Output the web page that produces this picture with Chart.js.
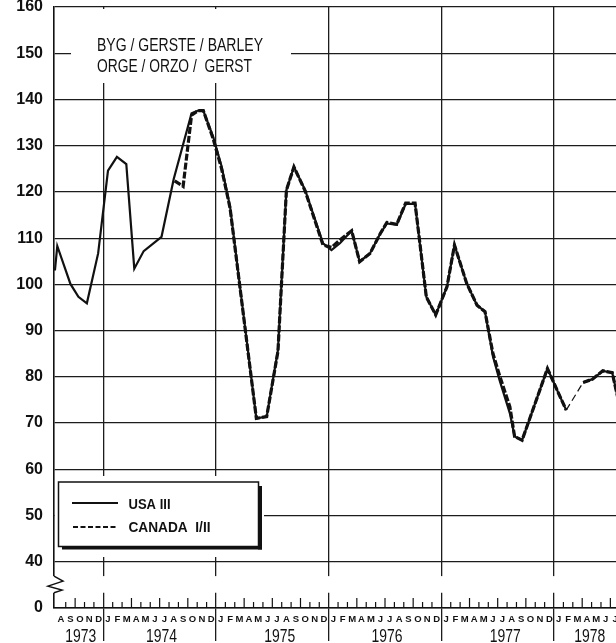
<!DOCTYPE html>
<html>
<head>
<meta charset="utf-8">
<script src="https://cdn.jsdelivr.net/npm/chart.js@4.4.1/dist/chart.umd.min.js"></script>
<style>
  html, body { margin: 0; padding: 0; background: #fff; }
  #wrap { width: 616px; height: 643px; }
</style>
</head>
<body>
<div id="wrap"><canvas id="barleyChart" width="616" height="643"></canvas></div>
<script>
// Meses contados desde enero 1973 = 0
const usaMonths = [6.85, 7.1, 8.5, 9.35, 10.25, 11.45, 12.5, 13.45, 14.45, 15.3, 16.3, 18.2,
    19.5, 21.4, 22.1, 22.65, 23.7, 24.6, 25.5, 28.3, 29.4, 30.6, 31.5, 32.3, 33.5,
    35.4, 36.3, 37.2, 38.45, 39.3, 40.4, 41.5, 42.2, 43.25, 44.2, 45.2, 46.4, 47.4,
    48.6, 49.4, 50.7, 51.8, 52.65, 53.5, 54.2, 55.3, 55.8, 56.6, 59.3, 60.4, 61.3,
    62.2, 63.1, 64.1, 65.2, 66.2, 67.2];
const usaValues = [103.0, 108.3, 100.1, 97.3, 95.9, 106.7, 124.6, 127.6, 126.0, 103.4, 107.2, 110.3,
    122.8, 137.0, 137.6, 137.6, 131.9, 125.5, 116.8, 71.0, 71.4, 85.8, 120.4, 125.4, 120.4,
    108.9, 107.4, 108.9, 111.6, 104.9, 106.7, 111.0, 113.2, 112.9, 117.4, 117.4, 97.3, 93.4,
    99.5, 108.5, 100.2, 95.5, 94.1, 84.4, 79.3, 72.1, 67.1, 66.3, 81.8, 76.8, 72.8,
    null, 78.8, 79.5, 81.3, 80.9, 71.7];

const canadaMonths = [19.6, 20.5, 21.4, 22.1, 22.65, 23.7, 24.6, 25.5, 28.3, 29.4, 30.6, 31.5,
    32.3, 33.5, 35.4, 36.3, 37.2, 38.45, 39.3, 40.4, 41.5, 42.2, 43.25, 44.2, 45.2, 46.4,
    47.4, 48.6, 49.4, 50.7, 51.8, 52.65, 53.5, 54.2, 55.3, 55.8, 56.6, 59.3, 60.4, 61.3,
    63.1, 64.1, 65.2, 66.2, 67.2];
const canadaValues = [122.4, 121.2, 136.6, 137.6, 137.6, 131.5, 125.0, 116.5, 71.0, 71.4, 85.5, 120.4,
    125.4, 120.2, 108.5, 108.0, 109.6, 111.6, 104.9, 106.7, 111.0, 113.4, 113.0, 117.6, 117.6, 97.3,
    93.4, 99.5, 108.5, 100.2, 95.5, 94.1, 85.0, 80.3, 73.5, 67.1, 66.3, 81.8, 76.8, 72.8,
    78.8, 79.5, 81.3, 80.9, 71.7];

const yTickValues = [30, 40, 50, 60, 70, 80, 90, 100, 110, 120, 130, 140, 150, 160];
const yTickLabels = ['0', '40', '50', '60', '70', '80', '90', '100', '110', '120', '130', '140', '150', '160'];
const yearLabels = ['1973', '1974', '1975', '1976', '1977', '1978'];
const monthLetters = ['J', 'F', 'M', 'A', 'M', 'J', 'J', 'A', 'S', 'O', 'N', 'D'];
const titleLines = ['BYG / GERSTE / BARLEY', 'ORGE / ORZO /  GERST'];
const legendLabels = ['USA III', 'CANADA  I/II'];

const ink = '#111';
const gridInk = '#1c1c1c';

function fitText(ctx, text, x, y, width, font) {
    ctx.save();
    ctx.font = font;
    const w = ctx.measureText(text).width;
    ctx.translate(x, y);
    ctx.scale(width / w, 1);
    ctx.fillText(text, 0, 0);
    ctx.restore();
}

// Tramo donde solo hay dato de Canadá
function canadaOnly(c) {
    return c.p0.parsed.x > 61 && c.p1.parsed.x < 64;
}

const decorPlugin = {
    id: 'decor',
    afterDraw(chart) {
        const { ctx, chartArea: a, scales: { x, y } } = chart;
        ctx.save();
        ctx.fillStyle = '#fff';

        // corte de las líneas de año cerca del eje
        const gapTop = y.getPixelForValue(36.9);
        const gapBot = y.getPixelForValue(33.3);
        [12, 24, 36, 48, 60].forEach(m => {
            const px = x.getPixelForValue(m);
            ctx.fillRect(px - 2, gapTop, 4, gapBot - gapTop);
        });

        // zigzag del eje Y
        ctx.fillRect(a.left - 3, gapTop, 6, gapBot - gapTop);
        ctx.strokeStyle = ink;
        ctx.lineWidth = 1.5;
        ctx.beginPath();
        ctx.moveTo(a.left, gapTop);
        ctx.lineTo(a.left + 9, gapTop + 5);
        ctx.lineTo(a.left - 6, gapTop + 10);
        ctx.lineTo(a.left + 8, gapTop + 14);
        ctx.lineTo(a.left, gapBot);
        ctx.stroke();

        // marcas de meses
        const axisY = a.bottom;
        ctx.lineWidth = 1.2;
        for (let m = 8; m <= 66; m++) {
            if (m % 12 === 0) continue;
            const px = x.getPixelForValue(m);
            const len = (m % 3 === 0) ? 10 : 6;
            ctx.beginPath();
            ctx.moveTo(px, axisY);
            ctx.lineTo(px, axisY - len);
            ctx.stroke();
        }

        // letras de meses
        ctx.fillStyle = ink;
        ctx.font = 'bold 9.5px "Liberation Sans", Arial, sans-serif';
        ctx.textAlign = 'center';
        ctx.textBaseline = 'alphabetic';
        for (let m = 7; m <= 66; m++) {
            const px = x.getPixelForValue(m + 0.5);
            ctx.fillText(monthLetters[m % 12], px, axisY + 14);
        }

        // años
        const yearCenters = [9.6, 18.2, 30.8, 42.2, 54.8, 63.8];
        ctx.textAlign = 'left';
        yearLabels.forEach((lab, i) => {
            const px = x.getPixelForValue(yearCenters[i]);
            fitText(ctx, lab, px - 15.5, axisY + 34, 31, '18px "Liberation Sans", Arial, sans-serif');
        });

        // título
        ctx.fillStyle = '#fff';
        ctx.fillRect(71, a.top + 2, 220, 74);
        ctx.fillStyle = ink;
        fitText(ctx, titleLines[0], 97, 50.5, 166, '18px "Liberation Sans", Arial, sans-serif');
        fitText(ctx, titleLines[1], 97, 71.5, 155, '18px "Liberation Sans", Arial, sans-serif');

        // leyenda
        ctx.fillStyle = '#fff';
        ctx.fillRect(a.left + 1, 476, 209, 81);
        ctx.fillStyle = ink;
        ctx.fillRect(62, 546, 200, 3.5);
        ctx.fillRect(258, 486, 4, 63.5);
        ctx.strokeStyle = ink;
        ctx.lineWidth = 1.5;
        ctx.strokeRect(58.5, 482, 200, 64.5);

        ctx.lineWidth = 2;
        ctx.beginPath();
        ctx.moveTo(72, 503);
        ctx.lineTo(118, 503);
        ctx.stroke();
        ctx.setLineDash([5, 2.5]);
        ctx.beginPath();
        ctx.moveTo(73, 527);
        ctx.lineTo(118, 527);
        ctx.stroke();
        ctx.setLineDash([]);

        fitText(ctx, legendLabels[0], 128.5, 508.5, 42, 'bold 14px "Liberation Sans", Arial, sans-serif');
        fitText(ctx, legendLabels[1], 128.5, 532, 82, 'bold 14px "Liberation Sans", Arial, sans-serif');

        ctx.restore();
    }
};

const ctx = document.getElementById('barleyChart').getContext('2d');

new Chart(ctx, {
    type: 'line',
    data: {
        datasets: [
            {
                label: legendLabels[0],
                data: usaMonths.map((m, i) => ({ x: m, y: usaValues[i] })),
                borderColor: ink,
                borderWidth: 2.2,
                pointRadius: 0,
                tension: 0,
                spanGaps: false
            },
            {
                label: legendLabels[1],
                data: canadaMonths.map((m, i) => ({ x: m, y: canadaValues[i] })),
                borderColor: ink,
                borderWidth: 3.2,
                borderDash: [7, 2],
                pointRadius: 0,
                tension: 0,
                segment: {
                    borderWidth: c => canadaOnly(c) ? 1.2 : 3.2,
                    borderDash: c => canadaOnly(c) ? [7, 4] : [7, 2]
                }
            }
        ]
    },
    options: {
        responsive: false,
        animation: false,
        devicePixelRatio: 1,
        layout: {
            padding: { top: 7, left: 0, right: 0, bottom: 0 }
        },
        plugins: {
            legend: { display: false },
            tooltip: { enabled: false }
        },
        scales: {
            x: {
                type: 'linear',
                min: 6.75,
                max: 66.6,
                afterBuildTicks: s => { s.ticks = [12, 24, 36, 48, 60].map(v => ({ value: v })); },
                ticks: { display: false },
                grid: {
                    color: gridInk,
                    lineWidth: 1.3,
                    drawTicks: true,
                    tickLength: 33,
                    tickColor: gridInk,
                    tickWidth: 1.3
                },
                border: { display: true, color: ink, width: 1.6 },
                afterFit: s => { s.height = 35; }
            },
            y: {
                min: 30,
                max: 160,
                afterBuildTicks: s => { s.ticks = yTickValues.map(v => ({ value: v })); },
                ticks: {
                    callback: v => yTickLabels[yTickValues.indexOf(v)],
                    color: ink,
                    padding: 0,
                    font: { family: '"Liberation Sans", Arial, sans-serif', weight: 'bold', size: 16, lineHeight: 0.85 }
                },
                grid: {
                    color: gridInk,
                    lineWidth: 1.3,
                    drawTicks: true,
                    tickLength: 11,
                    tickColor: 'rgba(0,0,0,0)'
                },
                border: { display: true, color: ink, width: 1.6 },
                afterFit: s => { s.width = 54; }
            }
        }
    },
    plugins: [decorPlugin]
});
</script>
</body>
</html>
